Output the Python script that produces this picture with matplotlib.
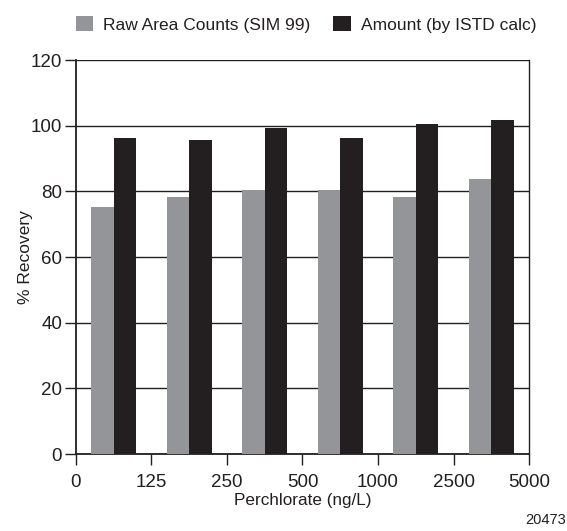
import matplotlib
matplotlib.use("Agg")
import matplotlib.pyplot as plt
import numpy as np

plt.rcParams['font.family'] = ['Liberation Sans', 'DejaVu Sans']

categories = ["0", "125", "250", "500", "1000", "2500", "5000"]
raw_area = [75.1, 78.3, 80.5, 80.5, 78.3, 83.8]
amount_istd = [96.3, 95.5, 99.4, 96.3, 100.4, 101.6]
series_names = ["Raw Area Counts (SIM 99)", "Amount (by ISTD calc)"]
gray = "#939598"
black = "#231f20"

fig = plt.figure(figsize=(5.67, 5.31), dpi=100)
ax = fig.add_axes([0.134, 0.145, 0.799, 0.742])

x = np.arange(len(raw_area)) + 0.5
w = 0.3
ax.bar(x - w / 2, raw_area, width=w, color=gray, label=series_names[0], zorder=3)
ax.bar(x + w / 2, amount_istd, width=w, color=black, label=series_names[1], zorder=3)

ax.set_xlim(0, len(categories) - 1)
ax.set_ylim(0, 120)
ax.set_yticks(np.arange(0, 121, 20))
ax.set_xticks(np.arange(len(categories)))
ax.set_xticklabels(categories)
ax.yaxis.grid(True, color="#231f20", linewidth=1.0, zorder=1)
ax.set_axisbelow(True)

for s in ["left", "bottom"]:
    ax.spines[s].set_linewidth(1.3)
    ax.spines[s].set_color("#231f20")
ax.spines["right"].set_linewidth(1.0)
ax.spines["right"].set_color("#231f20")
ax.spines["top"].set_visible(False)

ax.tick_params(axis="both", direction="out", length=8, width=1.0, colors="#231f20", labelsize=13.5)
ax.tick_params(axis="x", pad=6.5)
ax.tick_params(axis="y", pad=2)
ax.set_xlabel("Perchlorate (ng/L)", fontsize=12.3, labelpad=1.5, color="#231f20")
ax.set_ylabel("% Recovery", fontsize=12.5, labelpad=-2, color="#231f20")

ax.legend(loc="lower center", bbox_to_anchor=(0.508, 1.03), ncol=2, frameon=False,
          fontsize=12.5, handlelength=1.0, handleheight=1.0, columnspacing=1.3, handletextpad=0.6,
          labelcolor="#231f20")

fig.text(0.998, 0.021, "20473", ha="right", va="center", fontsize=10.5, color="#231f20")

fig.savefig("out.png", dpi=100)
